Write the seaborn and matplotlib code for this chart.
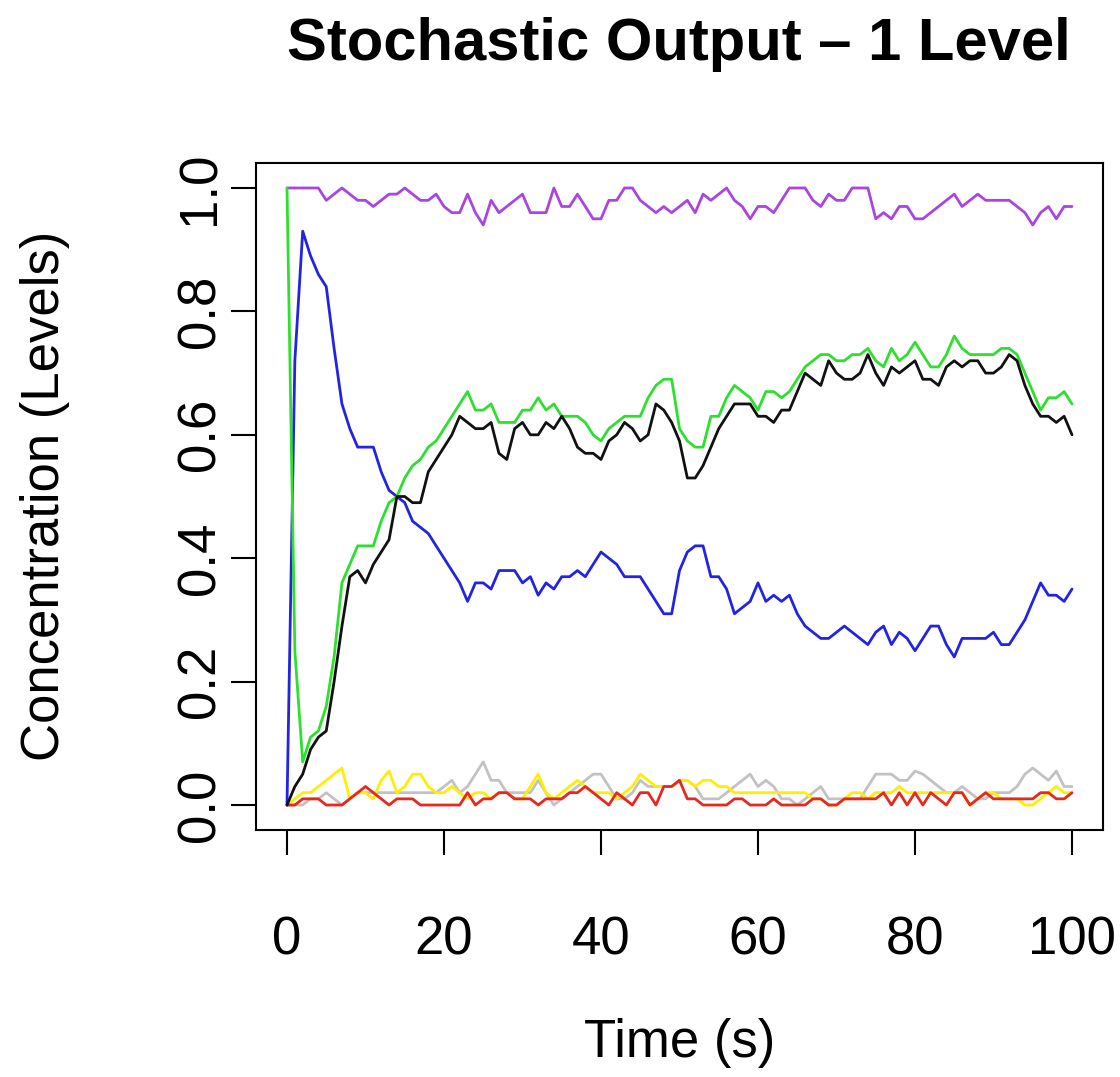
import numpy as np
import pandas as pd
import matplotlib
matplotlib.use("Agg")
import matplotlib.pyplot as plt
import seaborn as sns

time = list(range(0, 101))

purple = [1.0, 1.0, 1.0, 1.0, 1.0,
          0.98, 0.99, 1.0, 0.99, 0.98,
          0.98, 0.97, 0.98, 0.99, 0.99,
          1.0, 0.99, 0.98, 0.98, 0.99,
          0.97, 0.96, 0.96, 0.99, 0.96,
          0.94, 0.98, 0.96, 0.97, 0.98,
          0.99, 0.96, 0.96, 0.96, 1.0,
          0.97, 0.97, 0.99, 0.97, 0.95,
          0.95, 0.98, 0.98, 1.0, 1.0,
          0.98, 0.97, 0.96, 0.97, 0.96,
          0.97, 0.98, 0.96, 0.99, 0.98,
          0.99, 1.0, 0.98, 0.97, 0.95,
          0.97, 0.97, 0.96, 0.98, 1.0,
          1.0, 1.0, 0.98, 0.97, 0.99,
          0.98, 0.98, 1.0, 1.0, 1.0,
          0.95, 0.96, 0.95, 0.97, 0.97,
          0.95, 0.95, 0.96, 0.97, 0.98,
          0.99, 0.97, 0.98, 0.99, 0.98,
          0.98, 0.98, 0.98, 0.97, 0.96,
          0.94, 0.96, 0.97, 0.95, 0.97,
          0.97]

blue = [0.0, 0.72, 0.93, 0.89, 0.86,
        0.84, 0.74, 0.65, 0.61, 0.58,
        0.58, 0.58, 0.54, 0.51, 0.50,
        0.49, 0.46, 0.45, 0.44, 0.42,
        0.40, 0.38, 0.36, 0.33, 0.36,
        0.36, 0.35, 0.38, 0.38, 0.38,
        0.36, 0.37, 0.34, 0.36, 0.35,
        0.37, 0.37, 0.38, 0.37, 0.39,
        0.41, 0.40, 0.39, 0.37, 0.37,
        0.37, 0.35, 0.33, 0.31, 0.31,
        0.38, 0.41, 0.42, 0.42, 0.37,
        0.37, 0.35, 0.31, 0.32, 0.33,
        0.36, 0.33, 0.34, 0.33, 0.34,
        0.31, 0.29, 0.28, 0.27, 0.27,
        0.28, 0.29, 0.28, 0.27, 0.26,
        0.28, 0.29, 0.26, 0.28, 0.27,
        0.25, 0.27, 0.29, 0.29, 0.26,
        0.24, 0.27, 0.27, 0.27, 0.27,
        0.28, 0.26, 0.26, 0.28, 0.30,
        0.33, 0.36, 0.34, 0.34, 0.33,
        0.35]

green = [1.0, 0.25, 0.07, 0.11, 0.12,
         0.16, 0.24, 0.36, 0.39, 0.42,
         0.42, 0.42, 0.46, 0.49, 0.50,
         0.53, 0.55, 0.56, 0.58, 0.59,
         0.61, 0.63, 0.65, 0.67, 0.64,
         0.64, 0.65, 0.62, 0.62, 0.62,
         0.64, 0.64, 0.66, 0.64, 0.65,
         0.63, 0.63, 0.63, 0.62, 0.60,
         0.59, 0.61, 0.62, 0.63, 0.63,
         0.63, 0.66, 0.68, 0.69, 0.69,
         0.61, 0.59, 0.58, 0.58, 0.63,
         0.63, 0.66, 0.68, 0.67, 0.66,
         0.64, 0.67, 0.67, 0.66, 0.67,
         0.69, 0.71, 0.72, 0.73, 0.73,
         0.72, 0.72, 0.73, 0.73, 0.74,
         0.72, 0.71, 0.74, 0.72, 0.73,
         0.75, 0.73, 0.71, 0.71, 0.73,
         0.76, 0.74, 0.73, 0.73, 0.73,
         0.73, 0.74, 0.74, 0.73, 0.70,
         0.67, 0.64, 0.66, 0.66, 0.67,
         0.65]

black = [0.0, 0.03, 0.05, 0.09, 0.11,
         0.12, 0.20, 0.29, 0.37, 0.38,
         0.36, 0.39, 0.41, 0.43, 0.50,
         0.50, 0.49, 0.49, 0.54, 0.56,
         0.58, 0.60, 0.63, 0.62, 0.61,
         0.61, 0.62, 0.57, 0.56, 0.61,
         0.62, 0.60, 0.60, 0.62, 0.61,
         0.63, 0.61, 0.58, 0.57, 0.57,
         0.56, 0.59, 0.60, 0.62, 0.61,
         0.59, 0.60, 0.65, 0.64, 0.62,
         0.59, 0.53, 0.53, 0.55, 0.58,
         0.61, 0.63, 0.65, 0.65, 0.65,
         0.63, 0.63, 0.62, 0.64, 0.64,
         0.67, 0.70, 0.69, 0.68, 0.72,
         0.70, 0.69, 0.69, 0.70, 0.73,
         0.70, 0.68, 0.71, 0.70, 0.71,
         0.72, 0.69, 0.69, 0.68, 0.71,
         0.72, 0.71, 0.72, 0.72, 0.70,
         0.70, 0.71, 0.73, 0.72, 0.68,
         0.65, 0.63, 0.63, 0.62, 0.63,
         0.60]

red = [0.0, 0.0, 0.01, 0.01, 0.01,
       0.0, 0.0, 0.0, 0.01, 0.02,
       0.03, 0.02, 0.01, 0.0, 0.01,
       0.01, 0.01, 0.0, 0.0, 0.0,
       0.0, 0.0, 0.0, 0.02, 0.0,
       0.01, 0.01, 0.02, 0.02, 0.01,
       0.01, 0.01, 0.0, 0.01, 0.01,
       0.01, 0.02, 0.02, 0.03, 0.02,
       0.01, 0.0, 0.02, 0.01, 0.0,
       0.02, 0.02, 0.0, 0.03, 0.03,
       0.04, 0.01, 0.01, 0.0, 0.0,
       0.0, 0.0, 0.01, 0.01, 0.0,
       0.0, 0.0, 0.01, 0.0, 0.0,
       0.0, 0.0, 0.01, 0.01, 0.0,
       0.0, 0.01, 0.01, 0.01, 0.01,
       0.01, 0.02, 0.0, 0.02, 0.0,
       0.02, 0.0, 0.02, 0.01, 0.0,
       0.02, 0.02, 0.0, 0.01, 0.02,
       0.01, 0.01, 0.01, 0.01, 0.01,
       0.01, 0.02, 0.02, 0.01, 0.01,
       0.02]

yellow = [0.0, 0.01, 0.02, 0.02, 0.03,
          0.04, 0.05, 0.06, 0.01, 0.02,
          0.02, 0.01, 0.04, 0.055, 0.02,
          0.03, 0.05, 0.05, 0.03, 0.02,
          0.02, 0.03, 0.02, 0.01, 0.02,
          0.02, 0.01, 0.02, 0.02, 0.01,
          0.01, 0.03, 0.05, 0.02, 0.01,
          0.02, 0.03, 0.04, 0.03, 0.02,
          0.02, 0.02, 0.01, 0.02, 0.03,
          0.05, 0.04, 0.03, 0.03, 0.03,
          0.04, 0.04, 0.03, 0.04, 0.04,
          0.03, 0.03, 0.02, 0.02, 0.02,
          0.02, 0.02, 0.02, 0.02, 0.02,
          0.02, 0.02, 0.01, 0.01, 0.0,
          0.0, 0.01, 0.02, 0.02, 0.01,
          0.02, 0.02, 0.02, 0.03, 0.02,
          0.02, 0.02, 0.02, 0.02, 0.02,
          0.02, 0.02, 0.0, 0.01, 0.02,
          0.02, 0.01, 0.01, 0.01, 0.0,
          0.0, 0.01, 0.02, 0.03, 0.02,
          0.02]

gray = [0.0, 0.0, 0.0, 0.01, 0.01,
        0.02, 0.01, 0.0, 0.01, 0.02,
        0.02, 0.02, 0.02, 0.02, 0.02,
        0.02, 0.02, 0.02, 0.02, 0.02,
        0.03, 0.04, 0.02, 0.03, 0.05,
        0.07, 0.04, 0.04, 0.02, 0.02,
        0.02, 0.02, 0.04, 0.02, 0.0,
        0.01, 0.02, 0.03, 0.04, 0.05,
        0.05, 0.03, 0.01, 0.01, 0.02,
        0.04, 0.03, 0.03, 0.03, 0.03,
        0.04, 0.04, 0.03, 0.01, 0.01,
        0.01, 0.02, 0.03, 0.04, 0.05,
        0.03, 0.04, 0.03, 0.01, 0.01,
        0.0, 0.01, 0.02, 0.03, 0.01,
        0.01, 0.01, 0.01, 0.01, 0.03,
        0.05, 0.05, 0.05, 0.04, 0.04,
        0.055, 0.05, 0.04, 0.03, 0.02,
        0.02, 0.03, 0.02, 0.01, 0.01,
        0.02, 0.02, 0.02, 0.03, 0.05,
        0.06, 0.05, 0.04, 0.055, 0.03,
        0.03]

series_names = ["purple", "gray", "yellow", "red", "blue", "green", "black"]
series_values = [purple, gray, yellow, red, blue, green, black]
palette = {"purple": "#AA44E2", "gray": "#C2C2C2", "yellow": "#FFEE00",
           "red": "#E8281E", "blue": "#2323E6", "green": "#2EE02E",
           "black": "#111111"}

x_ticks = [0, 20, 40, 60, 80, 100]
y_ticks = [0.0, 0.2, 0.4, 0.6, 0.8, 1.0]
y_ticklabels = ["0.0", "0.2", "0.4", "0.6", "0.8", "1.0"]

frames = []
for name, vals in zip(series_names, series_values):
    frames.append(pd.DataFrame({"time": time, "value": vals, "species": name}))
df = pd.concat(frames, ignore_index=True)

sns.set_style("ticks")
plt.rcParams['font.family'] = ['Liberation Sans', 'DejaVu Sans']
plt.rcParams['text.color'] = 'black'
plt.rcParams['axes.labelcolor'] = 'black'
plt.rcParams['xtick.color'] = 'black'
plt.rcParams['ytick.color'] = 'black'

W, H = 1120, 1077
fig = plt.figure(figsize=(W / 100, H / 100), dpi=100)
fig.patch.set_facecolor("white")
ax_left, ax_right, ax_top, ax_bottom = 255.6, 1103.4, 163.3, 829.7
ax = fig.add_axes([ax_left / W, 1 - ax_bottom / H, (ax_right - ax_left) / W, (ax_bottom - ax_top) / H])

sns.lineplot(data=df, x="time", y="value", hue="species", hue_order=series_names,
             palette=palette, linewidth=2.0, legend=False, estimator=None,
             sort=False, ax=ax)

ax.set_xlim(-4, 104)
ax.set_ylim(-0.04, 1.04)
ax.set_xticks(x_ticks)
ax.set_xticklabels([str(t) for t in x_ticks])
ax.set_yticks(y_ticks)
ax.set_yticklabels(y_ticklabels)
for lbl in ax.get_yticklabels():
    lbl.set_rotation(90)
    lbl.set_va("center")
ax.tick_params(axis="both", direction="out", length=18, width=1.5, labelsize=38,
               color="black", labelcolor="black")
ax.tick_params(axis="x", pad=44)
ax.tick_params(axis="y", pad=4)
for s in ax.spines.values():
    s.set_linewidth(1.5)
    s.set_color("black")
    s.set_visible(True)
ax.set_xlabel("")
ax.set_ylabel("")

fig.text(679 / W, 1 - 60 / H, "Stochastic Output \u2013 1 Level", ha="center", va="baseline",
         fontsize=43, fontweight="bold", color="black")
fig.text(680 / W, 1 - 1043 / H, "Time (s)", ha="center", va="center", fontsize=38, color="black")
fig.text(45 / W, 1 - 496 / H, "Concentration (Levels)", ha="center", va="center",
         rotation=90, fontsize=38, color="black")

fig.savefig("out.png", dpi=100, facecolor="white")
